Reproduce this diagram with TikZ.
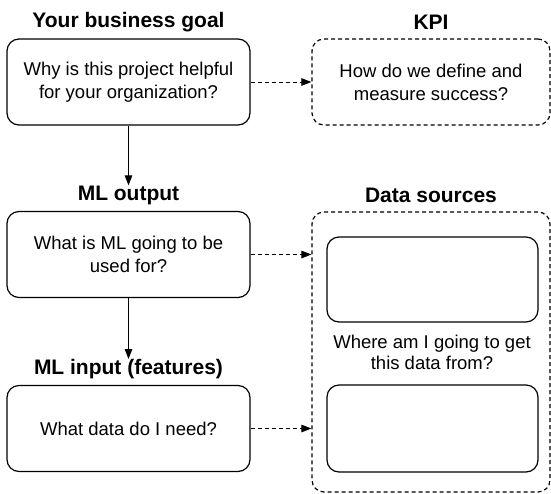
\documentclass[tikz,border=0pt]{standalone}
\usepackage{fontspec}
\setmainfont{Liberation Sans}
\usetikzlibrary{arrows.meta}
\begin{document}
\begin{tikzpicture}[x=1pt,y=-1pt,
  box/.style={draw=black, line width=1.2pt, rounded corners=12pt, minimum width=243pt, minimum height=86pt, inner sep=0pt, align=center, font=\fontsize{18.5}{23}\selectfont},
  dbox/.style={box, dash pattern=on 4pt off 3pt},
  ttl/.style={font=\fontsize{21}{25}\selectfont\bfseries, inner sep=0pt},
  txt/.style={font=\fontsize{18.5}{21}\selectfont, align=center, inner sep=0pt},
  arr/.style={line width=1pt, -{Triangle[length=10pt,width=7.5pt]}},
  darr/.style={arr, dash pattern=on 4pt off 3pt}]
\useasboundingbox (0,0) rectangle (551,493);
% left column
\node[ttl] (t1) at (128.5,22) {Your business goal};
\node[box] (b1) at (128.5,82) {Why is this project helpful\\for your organization?};
\node[ttl] (t2) at (128.5,195) {ML output};
\node[box] (b2) at (128.5,254.5) {What is ML going to be\\used for?};
\node[ttl] (t3) at (128.5,369) {ML input (features)};
\node[box] (b3) at (128.5,428.5) {What data do I need?};
% right column
\node[ttl] (t4) at (431,22) {KPI};
\node[dbox, minimum width=238pt] (k) at (431,82) {How do we define and\\measure success?};
\node[ttl] (t5) at (431,195) {Data sources};
\node[dbox, minimum width=238pt, minimum height=280pt] (ds) at (431,352) {};
\node[box, minimum width=211pt, minimum height=85pt] (s1) at (432.5,279.5) {};
\node[box, minimum width=211pt, minimum height=87pt] (s2) at (432.5,428.5) {};
\node[txt] (q) at (432,352) {Where am I going to get\\this data from?};
% connectors
\draw[arr] (b1.south) -- (t2.north);
\draw[arr] (b2.south) -- (t3.north);
\draw[darr] (b1.east) -- (k.west);
\coordinate (e2) at (ds.west |- b2.east);
\coordinate (e3) at (ds.west |- b3.east);
\draw[darr] (b2.east) -- (e2);
\draw[darr] (b3.east) -- (e3);
\end{tikzpicture}
\end{document}
